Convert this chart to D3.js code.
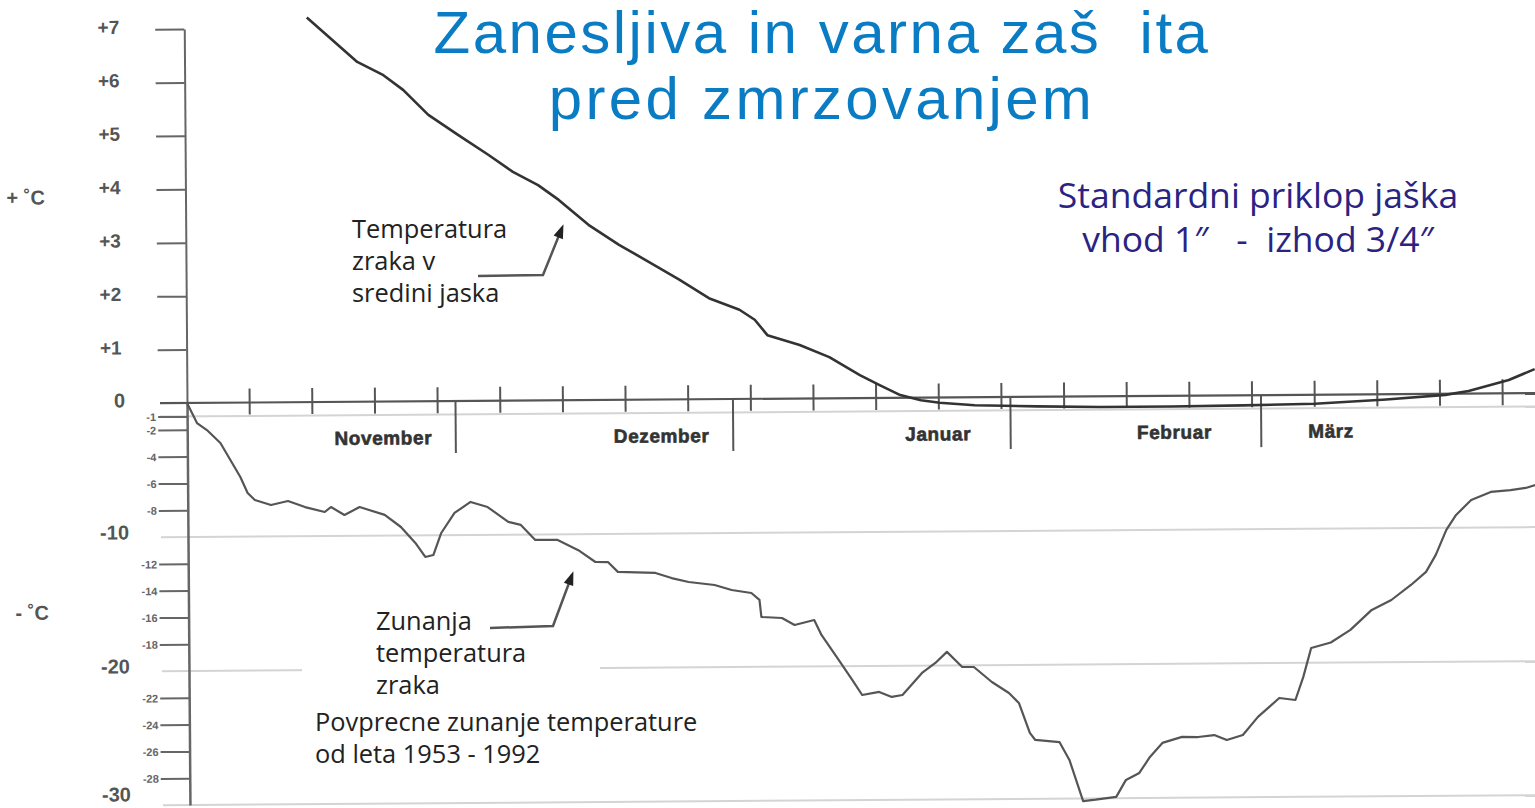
<!DOCTYPE html>
<html>
<head>
<meta charset="utf-8">
<script src="https://cdn.jsdelivr.net/npm/d3@7"></script>
<style>
  html, body { margin: 0; padding: 0; background: #fff; }
  svg { display: block; }
  text { white-space: pre; }
</style>
</head>
<body>
<svg id="chart"></svg>
<script>
// days counted from 1 November
const shaftDays  = [13.7, 16.5, 19.3, 22.1, 24.4, 27.2, 30.5, 33.9, 36.6, 39.4, 41.7, 45.0, 48.4, 51.7, 55.1, 58.4, 61.8, 63.5, 64.9, 68.5, 71.8, 75.2, 77.4, 79.7, 82.0, 84.1, 88, 95, 102, 110, 118, 126, 134, 140.6, 143.2, 147.7, 150.6];
const shaftTemps = [7.2, 6.78, 6.36, 6.12, 5.83, 5.36, 4.98, 4.6, 4.28, 4.03, 3.75, 3.28, 2.9, 2.58, 2.24, 1.89, 1.67, 1.48, 1.19, 1.0, 0.77, 0.43, 0.24, 0.05, -0.05, -0.1, -0.15, -0.18, -0.2, -0.2, -0.19, -0.17, -0.1, -0.02, 0.05, 0.25, 0.45];

const outsideDays  = [0, 1.1, 2.2, 3.7, 4.8, 5.9, 6.7, 7.5, 9.3, 11.2, 13.1, 15.3, 16.0, 17.5, 19.2, 22.0, 23.8, 25.4, 26.5, 27.4, 28.3, 29.8, 31.6, 33.5, 35.8, 37.2, 38.8, 41.3, 43.6, 45.5, 46.9, 48.0, 52.2, 54.0, 55.9, 58.8, 60.7, 62.9, 63.8, 64.0, 66.3, 67.7, 69.9, 70.7, 72.6, 74.1, 75.2, 77.1, 78.5, 79.7, 81.9, 83.4, 84.7, 86.4, 87.7, 89.7, 91.6, 92.7, 93.9, 94.5, 97.2, 98.3, 99.8, 101.2, 103.5, 104.6, 106.1, 107.3, 108.7, 110.9, 112.7, 114.5, 115.9, 117.7, 119.4, 121.8, 123.6, 124.5, 125.4, 127.6, 129.8, 132.2, 134.4, 136.6, 138.3, 139.4, 140.6, 141.7, 143.4, 145.6, 147.8, 149.5, 150.6];
const outsideTemps = [0, -1.5, -2.03, -3.0, -4.28, -5.55, -6.75, -7.28, -7.66, -7.37, -7.83, -8.21, -7.84, -8.44, -7.86, -8.46, -9.37, -10.57, -11.62, -11.48, -9.84, -8.35, -7.54, -7.93, -9.05, -9.28, -10.41, -10.42, -11.2, -12.09, -12.1, -12.84, -12.94, -13.33, -13.63, -13.87, -14.25, -14.49, -15.01, -16.28, -16.37, -16.9, -16.54, -17.66, -19.53, -21.03, -22.16, -21.94, -22.32, -22.18, -20.55, -19.81, -18.99, -20.12, -20.13, -21.26, -22.09, -22.84, -25.08, -25.61, -25.78, -27.12, -30.2, -30.1, -29.9, -28.64, -28.13, -26.94, -25.9, -25.46, -25.48, -25.34, -25.72, -25.35, -24.01, -22.61, -22.77, -21.05, -18.9, -18.5, -17.57, -16.09, -15.36, -14.25, -13.28, -12.02, -10.16, -9.05, -7.94, -7.35, -7.22, -7.07, -6.85];

const upperTicks = [1, 2, 3, 4, 5, 6, 7];
const lowerSmallTicks = [-4, -6, -8, -12, -14, -16, -18, -22, -24, -26, -28];
const lowerBigTicks = [-10, -20, -30];
const weekTicks = [7, 14, 21, 28, 35, 42, 49, 56, 63, 70, 77, 84, 91, 98, 105, 112, 119, 126, 133, 140, 147];
const monthEnds = [30, 61, 92, 120];
const monthNames = ['November', 'Dezember', 'Januar', 'Februar', 'März'];
const monthLabelDays = [21.9, 53.0, 83.9, 110.3, 127.8];

const W = 1535, H = 808;
const svg = d3.select('#chart').attr('width', W).attr('height', H);

const x = d3.scaleLinear().domain([0, 151]).range([187, 187 + 151 * 8.95]);
const yUp = d3.scaleLinear().domain([0, 7]).range([403, 29]);
const yLow = d3.scaleLinear().domain([0, -30]).range([403, 805]);

// scanned chart sits slightly rotated
const chart = svg.append('g').attr('transform', 'rotate(-0.42, 187, 403)');

// light grid lines in the lower half
chart.selectAll('.grid')
  .data([-1, -10, -20, -30])
  .join('line')
    .attr('class', 'grid')
    .attr('x1', 160).attr('x2', W + 20)
    .attr('y1', d => yLow(d)).attr('y2', d => yLow(d))
    .attr('stroke', '#d4d4d4')
    .attr('stroke-width', 2);

// upper axis (+°C)
const upAxis = chart.append('g')
  .attr('transform', 'translate(187,0)')
  .call(d3.axisLeft(yUp).tickValues(upperTicks).tickSize(29).tickSizeOuter(0).tickFormat(d => '+' + d));
upAxis.select('.domain').attr('stroke', '#666').attr('stroke-width', 2);
upAxis.selectAll('.tick line').attr('stroke', '#666').attr('stroke-width', 2);
upAxis.selectAll('.tick text')
  .attr('x', -65).attr('dy', '0.2em')
  .attr('fill', '#555')
  .style('font', 'bold 19px "Liberation Sans", Arial, sans-serif');

// lower axis (-°C)
const lowAxis = chart.append('g')
  .attr('transform', 'translate(187,0)')
  .call(d3.axisLeft(yLow).tickValues(lowerSmallTicks.concat([-1, -2])).tickSize(29).tickSizeOuter(0).tickFormat(d => d));
lowAxis.select('.domain').attr('stroke', '#666').attr('stroke-width', 2.5);
lowAxis.selectAll('.tick line').attr('stroke', '#666').attr('stroke-width', 2);
lowAxis.selectAll('.tick text')
  .attr('x', -31).attr('dy', '0.35em')
  .attr('fill', '#666')
  .style('font', 'bold 11px "Liberation Sans", Arial, sans-serif');

chart.selectAll('.bigLabel')
  .data(lowerBigTicks)
  .join('text')
    .attr('class', 'bigLabel')
    .attr('x', 128).attr('y', d => d === -30 ? yLow(d) - 4 : yLow(d) + 2)
    .attr('text-anchor', 'end')
    .attr('fill', '#555')
    .style('font', 'bold 20px "Liberation Sans", Arial, sans-serif')
    .text(d => d);

chart.append('text')
  .attr('x', 125).attr('y', 407)
  .attr('text-anchor', 'end')
  .attr('fill', '#555')
  .style('font', 'bold 20px "Liberation Sans", Arial, sans-serif')
  .text('0');

// unit labels
const unitFont = 'bold 20px "Liberation Sans", Arial, sans-serif';
chart.append('text').attr('x', 8).attr('y', yUp(4) + 14).attr('fill', '#555').style('font', unitFont).text('+ ˚C');
chart.append('text').attr('x', 14).attr('y', yLow(-15.5) + 8).attr('fill', '#555').style('font', unitFont).text('- ˚C');

// zero line with weekly ticks
chart.append('line')
  .attr('x1', 160).attr('x2', W + 20)
  .attr('y1', yUp(0)).attr('y2', yUp(0))
  .attr('stroke', '#555').attr('stroke-width', 2.2);

chart.selectAll('.week')
  .data(weekTicks)
  .join('line')
    .attr('class', 'week')
    .attr('x1', d => x(d)).attr('x2', d => x(d))
    .attr('y1', yUp(0) - 14).attr('y2', yUp(0) + 12)
    .attr('stroke', '#555').attr('stroke-width', 2);

chart.selectAll('.monthEnd')
  .data(monthEnds)
  .join('line')
    .attr('class', 'monthEnd')
    .attr('x1', d => x(d)).attr('x2', d => x(d))
    .attr('y1', yUp(0)).attr('y2', yUp(0) + 52)
    .attr('stroke', '#555').attr('stroke-width', 2);

chart.selectAll('.month')
  .data(monthNames)
  .join('text')
    .attr('class', 'month')
    .attr('x', (d, i) => x(monthLabelDays[i]))
    .attr('y', 446)
    .attr('text-anchor', 'middle')
    .attr('fill', '#333')
    .style('font', 'bold 19px "Liberation Sans", Arial, sans-serif')
    .style('letter-spacing', '0.6px')
    .style('stroke', '#333')
    .style('stroke-width', '0.6px')
    .text(d => d);

// curves
const shaftLine = d3.line().x(d => x(d[0])).y(d => yUp(d[1]));
const outsideLine = d3.line().x(d => x(d[0])).y(d => yLow(d[1]));

chart.append('path')
  .datum(d3.zip(outsideDays, outsideTemps))
  .attr('d', outsideLine)
  .attr('fill', 'none')
  .attr('stroke', '#555')
  .attr('stroke-width', 2.2)
  .attr('stroke-linejoin', 'round');

chart.append('path')
  .datum(d3.zip(shaftDays, shaftTemps))
  .attr('d', shaftLine)
  .attr('fill', 'none')
  .attr('stroke', '#333')
  .attr('stroke-width', 2.6)
  .attr('stroke-linejoin', 'round');

// annotation arrows
const arrows = [
  [[478, 276], [543, 275], [562, 228]],
  [[490, 628], [553, 626], [572, 575]]
];
const arrowLine = d3.line();
arrows.forEach(pts => {
  svg.append('path')
    .attr('d', arrowLine(pts))
    .attr('fill', 'none')
    .attr('stroke', '#555')
    .attr('stroke-width', 2.5);
  const tip = pts[2], prev = pts[1];
  const ang = Math.atan2(tip[1] - prev[1], tip[0] - prev[0]) * 180 / Math.PI;
  svg.append('path')
    .attr('d', 'M4,0 L-10,-5 L-10,5 Z')
    .attr('transform', `translate(${tip[0]},${tip[1]}) rotate(${ang})`)
    .attr('fill', '#222');
});

// white box behind the outside-temperature note (covers the -20 line)
svg.append('rect')
  .attr('x', 302).attr('y', 645).attr('width', 298).attr('height', 40)
  .attr('fill', '#fff');

// texts laid over the chart
const noteFont = '25.4px "Open Sans", sans-serif';
function note(lines, x0, y0, step) {
  svg.append('text')
    .attr('fill', '#222')
    .style('font', noteFont)
    .selectAll('tspan')
    .data(lines)
    .join('tspan')
      .attr('x', x0)
      .attr('y', (d, i) => y0 + i * step)
      .text(d => d);
}
note(['Temperatura', 'zraka v', 'sredini jaska'], 352, 238, 32);
note(['Zunanja', 'temperatura', 'zraka'], 376, 630, 32);
note(['Povprecne zunanje temperature', 'od leta 1953 - 1992'], 315, 731, 32);

svg.append('text')
  .attr('fill', '#0a7cc4')
  .attr('text-anchor', 'middle')
  .style('font', '60px "Liberation Sans", Arial, sans-serif')
  .selectAll('tspan')
  .data(['Zanesljiva in varna zaš  ita', 'pred zmrzovanjem'])
  .join('tspan')
    .attr('x', 822)
    .attr('y', (d, i) => 53 + i * 66)
    .style('letter-spacing', (d, i) => i === 0 ? '2.5px' : '3.3px')
    .text(d => d);

svg.append('text')
  .attr('fill', '#2a2382')
  .attr('text-anchor', 'middle')
  .style('font', '35.5px "Open Sans", sans-serif')
  .selectAll('tspan')
  .data(['Standardni priklop jaška', 'vhod 1″   -  izhod 3/4″'])
  .join('tspan')
    .attr('x', 1258)
    .attr('y', (d, i) => 208 + i * 44)
    .text(d => d);
</script>
</body>
</html>
